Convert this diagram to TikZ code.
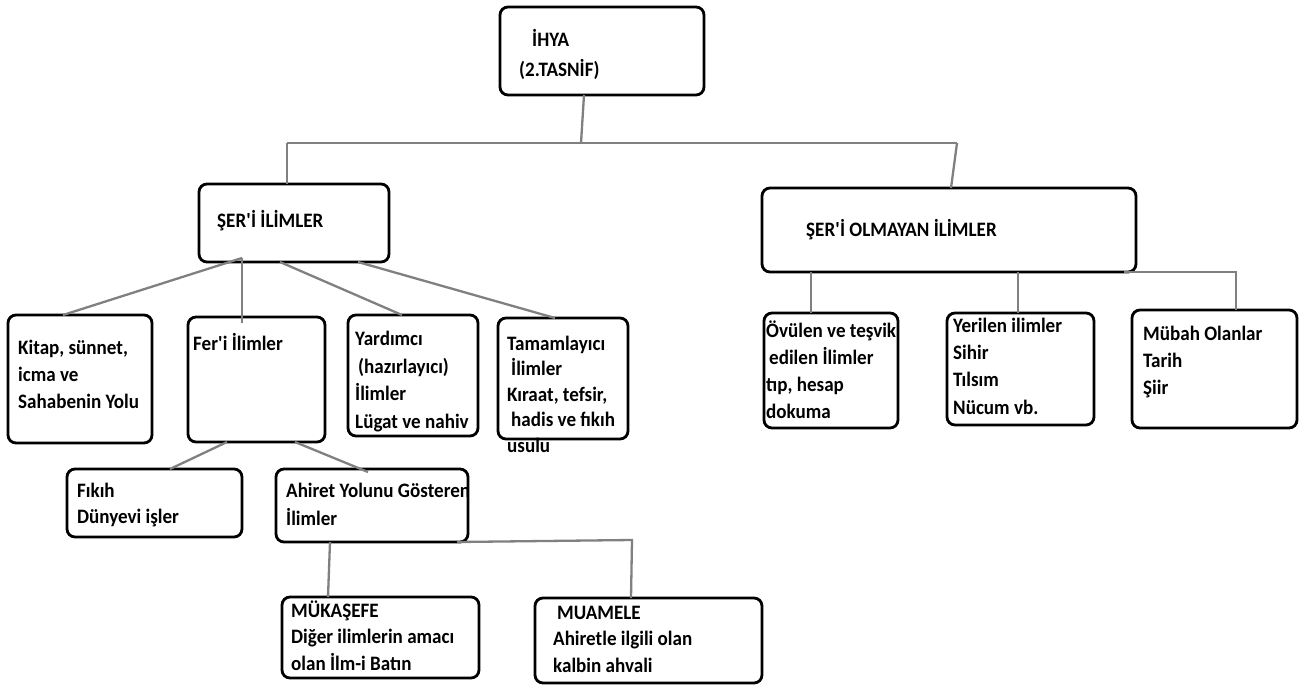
\documentclass[tikz,border=0pt]{standalone}
\usepackage{fontspec}
\setmainfont{Carlito}[FakeStretch=0.93]
\usetikzlibrary{positioning}
\definecolor{mygray}{RGB}{128,128,128}
\newcommand{\widthlink}{2.3pt}
\newcommand{\widthborder}{2.8pt}
\newcommand{\q}{\textquotesingle}
\tikzset{
    box/.style={draw, line width=\widthborder, rounded corners=8pt, anchor=north west, inner sep=0pt, outer sep=0pt},
    % anchored on the baseline of the last line
    txt/.style={anchor=base west, inner sep=0pt, align=left, font=\bfseries\fontsize{20.5}{#1}\selectfont},
    txt/.default=27,
    link/.style={draw=mygray, line width=\widthlink},
}

\begin{document}
\begin{tikzpicture}[x=1pt, y=-1pt]
    \path[use as bounding box, fill=white] (0,0) rectangle (1301,686);

    % boxes
    \node[box, minimum width=204, minimum height=88] (ihya) at (500,7) {};
    \node[box, minimum width=190, minimum height=78] (seri) at (199,184) {};
    \node[box, minimum width=374, minimum height=84] (gayri) at (762,188) {};
    \node[box, minimum width=144, minimum height=128] (kitap) at (8,315) {};
    \node[box, minimum width=137, minimum height=125] (feri) at (188,317) {};
    \node[box, minimum width=130, minimum height=121] (yardimci) at (348,315) {};
    \node[box, minimum width=130, minimum height=121] (tamam) at (498,318) {};
    \node[box, minimum width=134, minimum height=115] (ovulen) at (764,313) {};
    \node[box, minimum width=147, minimum height=112] (yerilen) at (947,313) {};
    \node[box, minimum width=165, minimum height=118] (mubah) at (1132,310) {};
    \node[box, minimum width=175, minimum height=68] (fikih) at (67,469) {};
    \node[box, minimum width=192, minimum height=73] (ahiret) at (276,469) {};
    \node[box, minimum width=197, minimum height=81] (mukasefe) at (282,597) {};
    \node[box, minimum width=227, minimum height=85] (muamele) at (535,598) {};

    % texts
    \node[txt=30] (ihya-t) at (519,76) {\hspace{13pt}İHYA\\(2.TASNİF)};
    \node[txt] (seri-t) at (217,227) {ŞER\q İ İLİMLER};
    \node[txt] (gayri-t) at (806,236) {ŞER\q İ OLMAYAN İLİMLER};
    \node[txt=27] (kitap-t) at (18,408) {Kitap, sünnet,\\icma ve\\Sahabenin Yolu};
    \node[txt] (feri-t) at (193,350) {Fer\q i İlimler};
    \node[txt=27.5] (yardimci-t) at (355,428) {Yardımcı\\\hspace{3pt}(hazırlayıcı)\\İlimler\\Lügat ve nahiv};
    \node[txt=25.5] (tamam-t) at (507,452) {Tamamlayıcı\\\hspace{4pt}İlimler\\Kıraat, tefsir,\\\hspace{4pt}hadis ve fıkıh\\usulu};
    \node[txt=27] (ovulen-t) at (766,418) {Övülen ve teşvik\\\hspace{3pt}edilen İlimler\\tıp, hesap\\dokuma};
    \node[txt=27.3] (yerilen-t) at (953,414) {Yerilen ilimler\\Sihir\\Tılsım\\Nücum vb.};
    \node[txt=27] (mubah-t) at (1143,394) {Mübah Olanlar\\Tarih\\Şiir};
    \node[txt=26] (fikih-t) at (77,523) {Fıkıh\\Dünyevi işler};
    \node[txt=28] (ahiret-t) at (286,525) {Ahiret Yolunu Gösteren\\İlimler};
    \node[txt=26.5] (mukasefe-t) at (291,670) {MÜKAŞEFE\\Diğer ilimlerin amacı\\olan İlm-i Batın};
    \node[txt=26.5] (muamele-t) at (553,672) {\hspace{4pt}MUAMELE\\Ahiretle ilgili olan\\kalbin ahvali};

    % connectors
    \coordinate (bus-l) at (287,143);
    \coordinate (bus-m) at (581,143);
    \coordinate (bus-r) at (957,143);
    \coordinate (muamele-k) at (632,540);
    \draw[link] ([xshift=84pt]ihya.south west) -- (bus-m);
    \draw[link] (bus-l) -- (bus-r);
    \draw[link] (bus-l) -- (bus-l |- seri.north);
    \draw[link] (bus-r) -- ([xshift=189pt]gayri.north west);

    \draw[link] ([xshift=43pt, yshift=4pt]seri.south west) -- ([xshift=55pt]kitap.north west);
    \draw[link] ([xshift=43pt, yshift=4pt]seri.south west) -- ([xshift=54pt, yshift=-6pt]feri.north west);
    \draw[link] ([xshift=81pt]seri.south west) -- ([xshift=54pt]yardimci.north west);
    \draw[link] ([xshift=159pt]seri.south west) -- ([xshift=57pt]tamam.north west);

    \draw[link] ([xshift=39pt]feri.south west) -- ([xshift=103pt]fikih.north west);
    \draw[link] ([xshift=107pt]feri.south west) -- ([xshift=92pt, yshift=-3pt]ahiret.north west);
    \draw[link] ([xshift=54pt]ahiret.south west) -- ([xshift=46pt]mukasefe.north west);
    \draw[link] ([xshift=181pt]ahiret.south west) -- (muamele-k) -- ([xshift=96pt]muamele.north west);

    \draw[link] ([xshift=49pt]gayri.south west) -- ([xshift=47pt]ovulen.north west);
    \draw[link] ([xshift=256pt]gayri.south west) -- ([xshift=71pt]yerilen.north west);
    \draw[link] ([xshift=362pt]gayri.south west) -| ([xshift=104pt]mubah.north west);
\end{tikzpicture}
\end{document}
